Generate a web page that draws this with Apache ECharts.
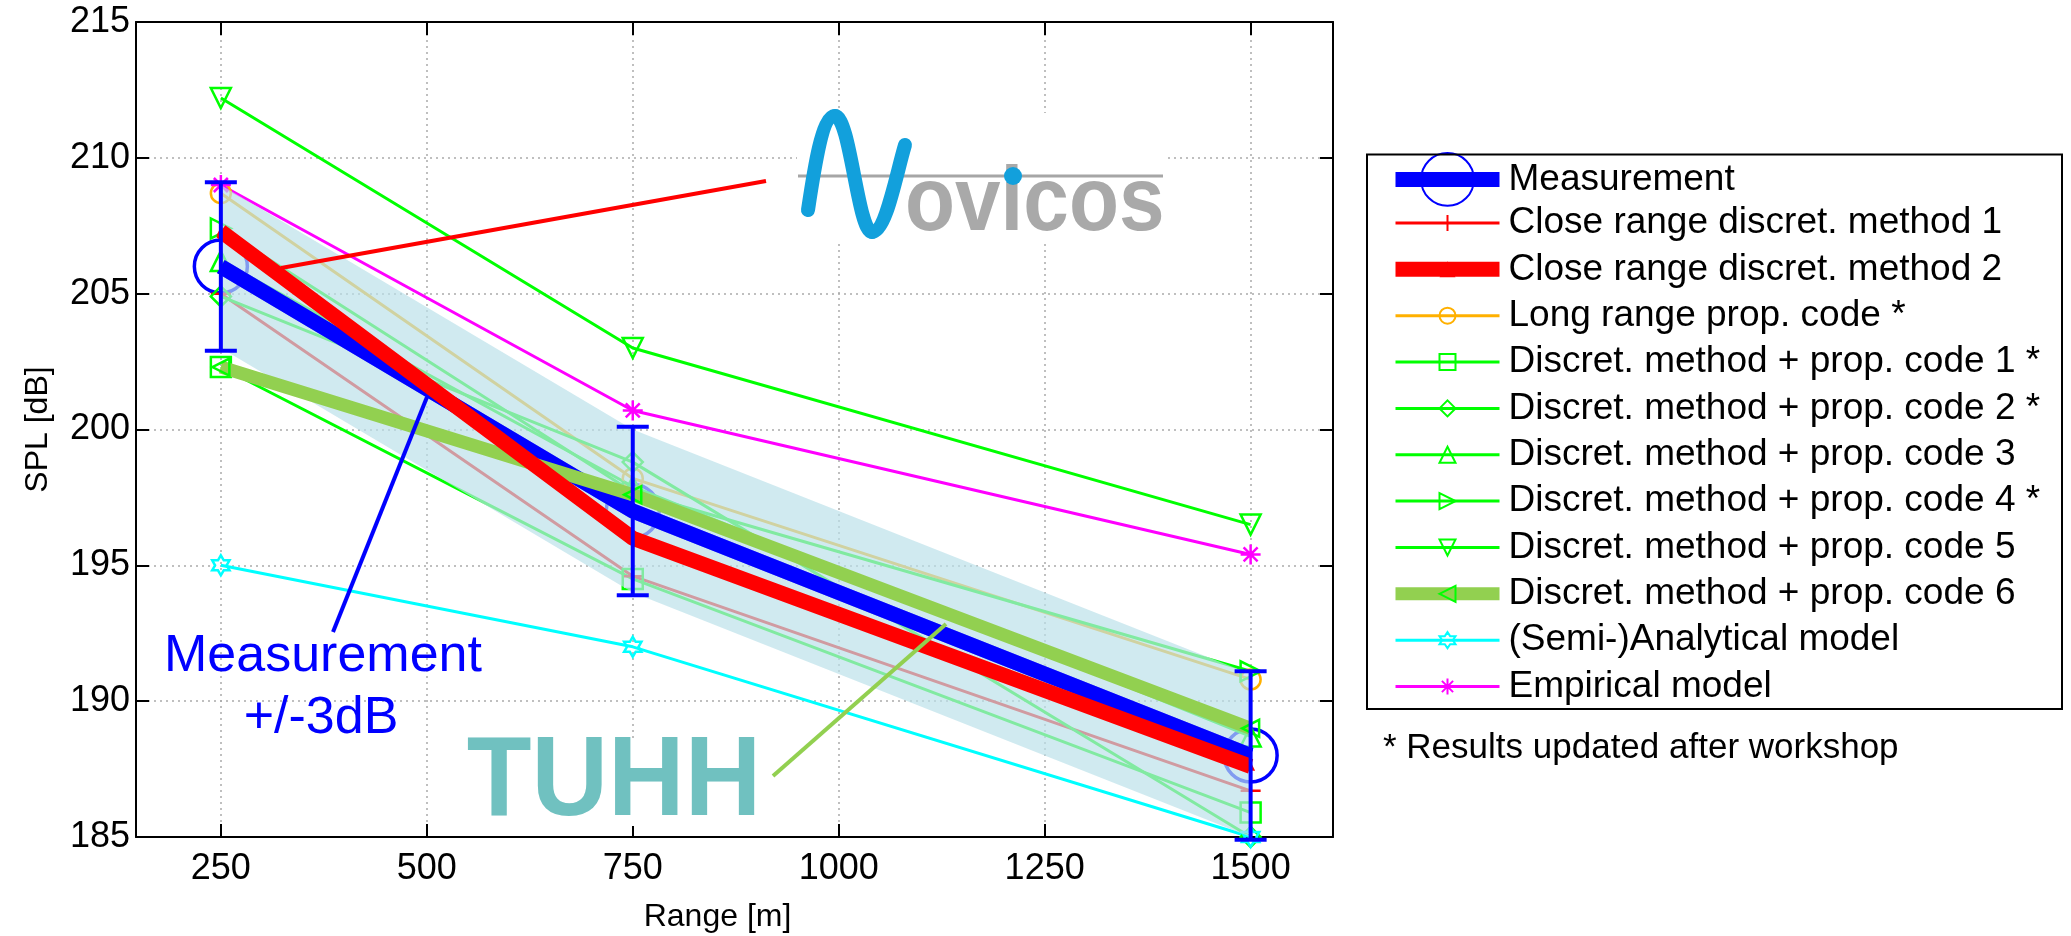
<!DOCTYPE html>
<html>
<head>
<meta charset="utf-8">
<script src="https://cdn.jsdelivr.net/npm/echarts@6/dist/echarts.min.js"></script>
<style>
html,body{margin:0;padding:0;background:#fff;}
#main{width:2071px;height:936px;}
</style>
</head>
<body>
<div id="main"></div>
<script>
// ranges in metres and the tick labels of the x axis
let ranges = [250, 750, 1500];
let xTicks = [250, 500, 750, 1000, 1250, 1500];

// SPL [dB] at each range
let measurement = [206.0, 197.0, 188.0];
let measErr = [3.1, 3.1, 3.1];
let bandHalf = 3;
let closeRange1 = [205.0, 194.6, 186.7];
let closeRange2 = [207.3, 196.0, 187.6];
let longRange = [208.7, 198.2, 190.8];
let discret1 = [202.3, 194.5, 185.9];
let discret2 = [204.9, 198.8, 185.0];
let discret3 = [206.2, 197.9, 188.7];
let discret4 = [207.4, 197.7, 191.1];
let discret5 = [212.2, 203.0, 196.5];
let discret6 = [202.3, 197.6, 189.0];
let analytical = [195.0, 192.0, 185.0];
let empirical = [209.0, 200.7, 195.4];

let FONT = '"Liberation Sans", Arial, sans-serif';
let PLUS = 'path://M0,-1L0,1M-1,0L1,0';
let STAR = 'path://M-1,0L1,0M0,-1L0,1M-0.7,-0.7L0.7,0.7M-0.7,0.7L0.7,-0.7';
let HEXA = 'path://M0,-1L0.289,-0.5L0.866,-0.5L0.577,0L0.866,0.5L0.289,0.5L0,1L-0.289,0.5L-0.866,0.5L-0.577,0L-0.866,-0.5L-0.289,-0.5Z';

function pts(arr){
    return ranges.map(function(r,i){ return [r, arr[i]]; });
}

function thin(name, arr, color, symbol, rotate){
    return {
        name: name,
        type: 'line',
        data: pts(arr),
        z: 2,
        symbol: symbol,
        symbolSize: 20,
        symbolRotate: rotate || 0,
        symbolKeepAspect: true,
        showSymbol: true,
        lineStyle: {color: color, width: 3},
        itemStyle: {color: 'rgba(0,0,0,0)', borderColor: color, borderWidth: 2.5},
        emphasis: {disabled: true}
    };
}

let myChart = echarts.init(document.getElementById('main'));

let series = [
    {
        name: 'Measurement',
        type: 'line',
        data: pts(measurement),
        z: 1,
        symbol: 'circle',
        symbolSize: 53,
        lineStyle: {color: '#0000ff', width: 15},
        itemStyle: {color: 'rgba(0,0,0,0)', borderColor: '#0000ff', borderWidth: 3.5},
        emphasis: {disabled: true}
    },
    thin('Close range discret. method 1', closeRange1, '#ff0000', PLUS, 0),
    thin('Long range prop. code *', longRange, '#ffb000', 'circle', 0),
    thin('Discret. method + prop. code 1 *', discret1, '#00ff00', 'rect', 0),
    thin('Discret. method + prop. code 2 *', discret2, '#00ff00', 'diamond', 0),
    thin('Discret. method + prop. code 3', discret3, '#00ff00', 'triangle', 0),
    thin('Discret. method + prop. code 4 *', discret4, '#00ff00', 'triangle', -90),
    thin('Discret. method + prop. code 5', discret5, '#00ff00', 'triangle', 180),
    thin('(Semi-)Analytical model', analytical, '#00ffff', HEXA, 0),
    thin('Empirical model', empirical, '#ff00ff', STAR, 0),
    {
        // measurement +/-3dB band, drawn over the thin lines
        name: 'band',
        type: 'custom',
        z: 3,
        silent: true,
        data: ranges.map(function(r,i){ return [r, measurement[i]]; }),
        renderItem: function(params, api){
            if (params.dataIndex !== 0) return;
            let top = [], bottom = [];
            for (let i = 0; i < ranges.length; i++) {
                top.push(api.coord([ranges[i], measurement[i] + bandHalf]));
                bottom.unshift(api.coord([ranges[i], measurement[i] - bandHalf]));
            }
            return {
                type: 'polygon',
                shape: {points: top.concat(bottom)},
                style: {fill: 'rgba(187,225,233,0.69)'}
            };
        }
    },
    {
        name: 'Measurement line',
        type: 'line',
        data: pts(measurement),
        z: 4,
        symbol: 'none',
        lineStyle: {color: '#0000ff', width: 15},
        emphasis: {disabled: true}
    },
    {
        name: 'Discret. method + prop. code 6',
        type: 'line',
        data: pts(discret6),
        z: 5,
        symbol: 'triangle',
        symbolRotate: 90,
        symbolSize: 17,
        lineStyle: {color: '#92d050', width: 13},
        itemStyle: {color: 'rgba(0,0,0,0)', borderColor: '#00ff00', borderWidth: 2.5},
        emphasis: {disabled: true}
    },
    {
        name: 'Close range discret. method 2',
        type: 'line',
        data: pts(closeRange2),
        z: 6,
        symbol: 'triangle',
        symbolSize: 9,
        lineStyle: {color: '#ff0000', width: 15},
        itemStyle: {color: '#ff0000'},
        emphasis: {disabled: true}
    },
    {
        name: 'errbar',
        type: 'custom',
        z: 7,
        silent: true,
        data: ranges.map(function(r,i){ return [r, measurement[i] - measErr[i], measurement[i] + measErr[i]]; }),
        renderItem: function(params, api){
            let lo = api.coord([api.value(0), api.value(1)]);
            let hi = api.coord([api.value(0), api.value(2)]);
            let cap = 16;
            let st = {stroke: '#0000ff', lineWidth: 4};
            return {
                type: 'group',
                children: [
                    {type: 'line', shape: {x1: lo[0], y1: lo[1], x2: hi[0], y2: hi[1]}, style: st},
                    {type: 'line', shape: {x1: lo[0]-cap, y1: lo[1], x2: lo[0]+cap, y2: lo[1]}, style: st},
                    {type: 'line', shape: {x1: hi[0]-cap, y1: hi[1], x2: hi[0]+cap, y2: hi[1]}, style: st}
                ]
            };
        }
    }
];

let legendRest = [
    {name: 'Close range discret. method 1', lineStyle: {width: 3}},
    {name: 'Close range discret. method 2', lineStyle: {width: 15}},
    {name: 'Long range prop. code *', lineStyle: {width: 3}},
    {name: 'Discret. method + prop. code 1 *', lineStyle: {width: 3}},
    {name: 'Discret. method + prop. code 2 *', lineStyle: {width: 3}},
    {name: 'Discret. method + prop. code 3', lineStyle: {width: 3}},
    {name: 'Discret. method + prop. code 4 *', lineStyle: {width: 3}},
    {name: 'Discret. method + prop. code 5', lineStyle: {width: 3}},
    {name: 'Discret. method + prop. code 6', lineStyle: {width: 13}},
    {name: '(Semi-)Analytical model', lineStyle: {width: 3}},
    {name: 'Empirical model', lineStyle: {width: 3}}
];

let legendText = {fontSize: 37, fontFamily: FONT, color: '#000', lineHeight: 40, padding: [0, 0, 0, 4]};

let axisBase = {
    type: 'value',
    axisLine: {show: true, onZero: false, lineStyle: {color: '#000', width: 2}},
    axisTick: {show: true, inside: true, length: 13, lineStyle: {color: '#000', width: 2}},
    splitLine: {show: false}
};

let waveStyle = {stroke: '#12a0dc', lineWidth: 14, fill: 'none', lineCap: 'round'};

let option = {
    animation: false,
    backgroundColor: '#fff',
    grid: {left: 136, right: 738, top: 22, bottom: 99, containLabel: false, outerBoundsMode: 'none'},
    xAxis: [
        Object.assign({}, axisBase, {
            position: 'bottom', min: 147, max: 1600,
            name: 'Range [m]', nameLocation: 'middle', nameGap: 64,
            nameTextStyle: {fontSize: 32, fontFamily: FONT, color: '#000', padding: [0, 34, 0, 0]},
            axisTick: {show: true, inside: true, length: 13, customValues: xTicks, lineStyle: {color: '#000', width: 2}},
            axisLabel: {
                show: true, customValues: xTicks, fontSize: 36, fontFamily: FONT, color: '#000', margin: 14,
                formatter: function(v){ return String(v); }
            },
            splitLine: {show: true, lineStyle: {color: '#aaa', width: 1.5, type: [2, 4]}}
        }),
        Object.assign({}, axisBase, {
            position: 'top', min: 147, max: 1600,
            axisTick: {show: true, inside: true, length: 13, customValues: xTicks, lineStyle: {color: '#000', width: 2}},
            axisLabel: {show: false}
        })
    ],
    yAxis: [
        Object.assign({}, axisBase, {
            position: 'left', min: 185, max: 215, interval: 5,
            name: 'SPL [dB]', nameLocation: 'middle', nameGap: 82,
            nameTextStyle: {fontSize: 32, fontFamily: FONT, color: '#000'},
            axisLabel: {show: true, fontSize: 36, fontFamily: FONT, color: '#000', margin: 6},
            splitLine: {show: true, lineStyle: {color: '#aaa', width: 1.5, type: [2, 4]}}
        }),
        Object.assign({}, axisBase, {
            position: 'right', min: 185, max: 215, interval: 5,
            axisLabel: {show: false}
        })
    ],
    legend: [
        {
            data: [{name: 'Measurement', lineStyle: {width: 15}}],
            orient: 'vertical', left: 1388, top: 152, padding: 0,
            itemWidth: 104, itemHeight: 66,
            selectedMode: false,
            textStyle: legendText
        },
        {
            data: legendRest,
            orient: 'vertical', left: 1388, top: 203, padding: 0,
            itemWidth: 104, itemHeight: 20, itemGap: 6.35,
            selectedMode: false,
            textStyle: legendText
        }
    ],
    graphic: [
        {type: 'rect', z: 100, shape: {x: 1367, y: 154.5, width: 695, height: 554.5}, style: {fill: 'none', stroke: '#000', lineWidth: 2}},
        {type: 'text', z: 100, style: {text: '* Results updated after workshop', x: 1383, y: 748, font: '35px ' + FONT, fill: '#000', textVerticalAlign: 'middle'}},
        // annotation lines
        {type: 'line', z: 100, shape: {x1: 281, y1: 268, x2: 766, y2: 181}, style: {stroke: '#ff0000', lineWidth: 4}},
        {type: 'line', z: 100, shape: {x1: 333, y1: 632, x2: 427, y2: 397}, style: {stroke: '#0000ff', lineWidth: 4}},
        {type: 'line', z: 100, shape: {x1: 773, y1: 776, x2: 946, y2: 624}, style: {stroke: '#92d050', lineWidth: 4}},
        {type: 'text', z: 100, style: {text: 'Measurement', x: 323, y: 657, font: '52px ' + FONT, fill: '#0000ff', textAlign: 'center', textVerticalAlign: 'middle'}},
        {type: 'text', z: 100, style: {text: '+/-3dB', x: 321, y: 718.7, font: '52px ' + FONT, fill: '#0000ff', textAlign: 'center', textVerticalAlign: 'middle'}},
        // Novicos logo
        {type: 'rect', z: 100, shape: {x: 797, y: 113, width: 369, height: 129}, style: {fill: '#fff'}},
        {type: 'line', z: 101, shape: {x1: 798, y1: 176, x2: 1163, y2: 176}, style: {stroke: '#a6a6a6', lineWidth: 3}},
        {type: 'text', z: 101, x: 905, y: 205.5, scaleX: 0.91, style: {text: 'ovicos', x: 0, y: 0, font: 'bold 90px ' + FONT, fill: '#a9a9a9', textVerticalAlign: 'middle'}},
        {type: 'circle', z: 102, shape: {cx: 1013, cy: 176, r: 9}, style: {fill: '#12a0dc'}},
        {type: 'bezierCurve', z: 102, shape: {x1: 808, y1: 210, cpx1: 814, cpy1: 170, cpx2: 822, cpy2: 116, x2: 835, y2: 116}, style: waveStyle},
        {type: 'bezierCurve', z: 102, shape: {x1: 835, y1: 116, cpx1: 850, cpy1: 116, cpx2: 858, cpy2: 232, x2: 872, y2: 232}, style: waveStyle},
        {type: 'bezierCurve', z: 102, shape: {x1: 872, y1: 232, cpx1: 886, cpy1: 232, cpx2: 896, cpy2: 175, x2: 905, y2: 145}, style: waveStyle},
        // TUHH logo
        {type: 'rect', z: 100, shape: {x: 466, y: 738, width: 296, height: 88}, style: {fill: '#fff'}},
        {type: 'text', z: 101, x: 614, y: 783.8, scaleX: 0.93, style: {text: 'TUHH', x: 0, y: 0, font: 'bold 114px ' + FONT, fill: '#70c1c0', textAlign: 'center', textVerticalAlign: 'middle'}}
    ],
    series: series
};

myChart.setOption(option);
window.onresize = function(){
    myChart.resize();
};
</script>
</body>
</html>
